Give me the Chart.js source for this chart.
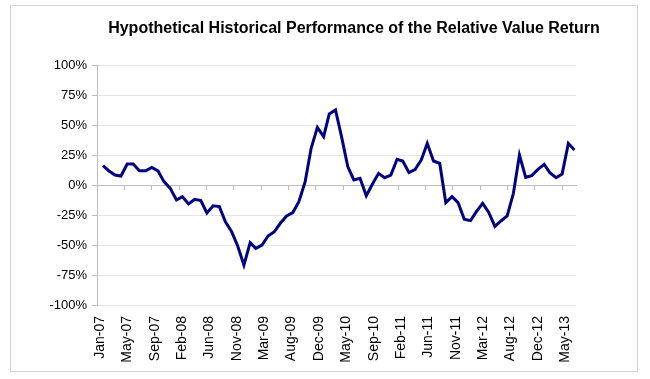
<!DOCTYPE html>
<html>
<head>
<meta charset="utf-8">
<script src="https://cdn.jsdelivr.net/npm/chart.js@4/dist/chart.umd.min.js"></script>
<style>
  html, body { margin: 0; padding: 0; background: #fff; }
  canvas { display: block; }
</style>
</head>
<body>
<canvas id="myChart" width="650" height="379"></canvas>
<script>
const chartTitle = 'Hypothetical Historical Performance of the Relative Value Return'

// monthly observations, Jan-07 .. Jun-13 (month-end)
const firstMonth = { year: 2007, month: 0 }
const monthCount = 78

const relativeValueReturn = [
  16.1, 11.9, 8.3, 7.5, 17.5, 17.5, 11.9, 11.9, 14.7, 11.7,
  2.8, -2.8, -12.5, -9.7, -15.8, -11.9, -13.0, -23.3, -17.3, -18.0,
  -30.6, -38.9, -50.8, -66.7, -48.0, -52.8, -50.0, -42.5, -38.9, -31.9,
  -25.8, -23.0, -13.9, 2.5, 30.6, 48.0, 40.3, 59.2, 62.5, 40.3,
  15.3, 4.2, 5.6, -8.9, 0.6, 9.7, 6.1, 8.3, 21.4, 19.9,
  10.4, 12.9, 20.8, 34.7, 20.0, 18.0, -14.7, -9.7, -14.7, -28.6,
  -29.7, -22.2, -15.3, -22.6, -34.5, -30.0, -25.8, -6.9, 25.0, 6.4,
  7.8, 13.0, 17.2, 10.3, 6.1, 9.2, 34.7, 29.2
]

const tickLabels = [
  'Jan-07', 'May-07', 'Sep-07', 'Feb-08', 'Jun-08', 'Nov-08',
  'Mar-09', 'Aug-09', 'Dec-09', 'May-10', 'Sep-10', 'Feb-11',
  'Jun-11', 'Nov-11', 'Mar-12', 'Aug-12', 'Dec-12', 'May-13'
]
const tickStepDays = 136
const axisEndDays = 2380

const dayMs = 86400000
const origin = Date.UTC(firstMonth.year, firstMonth.month, 1)
const monthEnds = []
for (let i = 0; i < monthCount; i++) {
  monthEnds.push((Date.UTC(firstMonth.year, firstMonth.month + i + 1, 0) - origin) / dayMs)
}

const points = monthEnds.map((d, i) => ({ x: d, y: relativeValueReturn[i] }))

const colors = {
  line: '#000080',
  grid: '#e4e4e4',
  axis: '#bdbdbd',
  frame: '#d4d4d4',
  text: '#000000'
}
const fontFamily = "Arial, 'Liberation Sans', sans-serif"

const setDateTicks = scale => {
  scale.ticks = tickLabels.map((_, k) => ({ value: k * tickStepDays }))
}

const framePlugin = {
  id: 'frame',
  beforeDraw(chart) {
    const ctx = chart.ctx
    ctx.save()
    ctx.fillStyle = '#ffffff'
    ctx.fillRect(0, 0, chart.width, chart.height)
    ctx.strokeStyle = colors.frame
    ctx.lineWidth = 1
    ctx.strokeRect(10.5, 5.5, 627, 366)
    ctx.restore()
  },
  afterDraw(chart) {
    const ctx = chart.ctx
    ctx.save()
    ctx.fillStyle = colors.text
    ctx.font = 'bold 16px ' + fontFamily
    ctx.textAlign = 'center'
    ctx.textBaseline = 'middle'
    ctx.fillText(chartTitle, 354, 29)
    ctx.restore()
  }
}

const ctx = document.getElementById('myChart').getContext('2d')

new Chart(ctx, {
  type: 'line',
  data: {
    datasets: [
      {
        label: 'Relative Value Return',
        data: points,
        borderColor: colors.line,
        borderWidth: 3,
        pointRadius: 0,
        tension: 0,
        fill: false
      }
    ]
  },
  options: {
    responsive: false,
    animation: false,
    devicePixelRatio: 1,
    layout: {
      padding: { left: 0, right: 74, top: 65, bottom: 0 }
    },
    plugins: {
      legend: { display: false },
      title: { display: false },
      tooltip: { enabled: false }
    },
    scales: {
      x: {
        type: 'linear',
        position: 'bottom',
        min: 0,
        max: axisEndDays,
        afterBuildTicks: setDateTicks,
        afterFit: scale => { scale.height = 74 },
        grid: { display: false },
        border: { display: false },
        ticks: {
          autoSkip: false,
          minRotation: 90,
          maxRotation: 90,
          padding: 3,
          labelOffset: 3,
          color: colors.text,
          font: { family: fontFamily, size: 14 },
          callback: (value, index) => tickLabels[index]
        }
      },
      x2: {
        type: 'linear',
        axis: 'x',
        position: { y: 0 },
        min: 0,
        max: axisEndDays,
        afterBuildTicks: setDateTicks,
        grid: {
          drawOnChartArea: false,
          drawTicks: true,
          tickLength: 4,
          tickColor: colors.axis
        },
        border: { color: colors.axis, width: 1 },
        ticks: { display: false }
      },
      y: {
        min: -100,
        max: 100,
        afterFit: scale => { scale.width = 97 },
        grid: {
          color: colors.grid,
          tickColor: colors.axis,
          tickLength: 5
        },
        border: { color: colors.axis },
        ticks: {
          stepSize: 25,
          padding: 5,
          color: colors.text,
          font: { family: fontFamily, size: 13 },
          callback: value => value + '%'
        }
      }
    }
  },
  plugins: [framePlugin]
})
</script>
</body>
</html>
